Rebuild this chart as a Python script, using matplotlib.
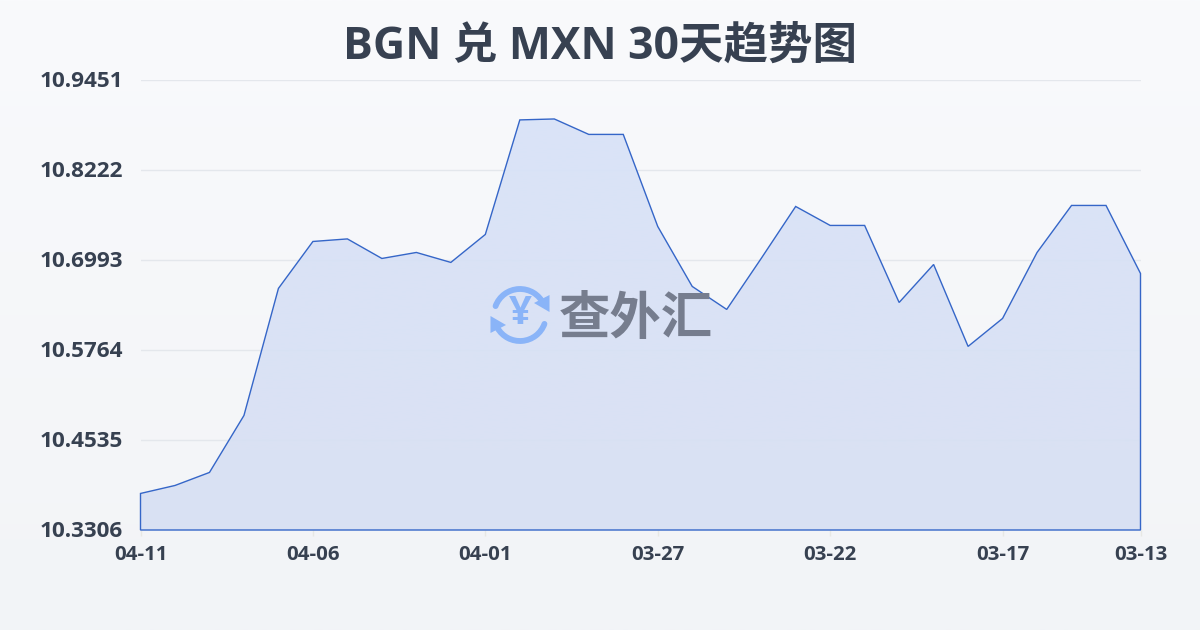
import numpy as np
import matplotlib
matplotlib.use("Agg")
import matplotlib.pyplot as plt
from matplotlib.patches import Arc, Polygon
from matplotlib.colors import LinearSegmentedColormap

LATIN = ['Open Sans', 'Noto Sans CJK SC', 'DejaVu Sans']
plt.rcParams['font.family'] = LATIN

TITLE = "BGN 兑 MXN 30天趋势图"
WATERMARK = "查外汇"
dates = ["04-11","04-10","04-09","04-08","04-07","04-06","04-05","04-04","04-03","04-02",
         "04-01","03-31","03-30","03-29","03-28","03-27","03-26","03-25","03-24","03-23",
         "03-22","03-21","03-20","03-19","03-18","03-17","03-16","03-15","03-14","03-13"]
rates = [10.3805,10.3914,10.4092,10.4870,10.6605,10.7246,10.7281,10.7014,10.7096,10.6960,
         10.7342,10.8906,10.8919,10.8708,10.8708,10.7451,10.6632,10.6318,10.7014,10.7724,
         10.7465,10.7465,10.6413,10.6932,10.5813,10.6195,10.7096,10.7738,10.7738,10.6809]
yticks = [10.3306,10.4535,10.5764,10.6993,10.8222,10.9451]
xtick_idx = [0,5,10,15,20,25,29]

W, H = 1200, 630
fig = plt.figure(figsize=(W/100, H/100), dpi=100)

bg = fig.add_axes([0,0,1,1], zorder=0)
bg.axis("off")
bg.imshow(np.linspace(0,1,256)[:,None], aspect="auto", extent=[0,1,0,1],
          cmap=LinearSegmentedColormap.from_list("bg",["#f9fafc","#f2f4f7"]))

ax = fig.add_axes([140.5/W, 1-530/H, 1000/W, 450/H], zorder=1)
ax.patch.set_alpha(0)
x = np.arange(len(rates))
ax.yaxis.grid(True, color="#e4e7ec", lw=1)
ax.set_axisbelow(True)
for s in ax.spines.values():
    s.set_visible(False)

grad = LinearSegmentedColormap.from_list("fill",["#d8e3f8","#d8e0f3"])
im = ax.imshow(np.linspace(0,1,256)[:,None], aspect="auto", cmap=grad, alpha=0.93,
               extent=[0,len(rates)-1,yticks[0],yticks[-1]], zorder=1.5)
outline = np.column_stack([np.r_[x[0],x,x[-1]], np.r_[yticks[0],rates,yticks[0]]])
poly = Polygon(outline, closed=True, fc="none", ec="#3566c8", lw=1, zorder=2, joinstyle="miter", clip_on=False)
ax.add_patch(poly)
im.set_clip_path(poly)
ax.set_xlim(0, len(rates)-1)
ax.set_ylim(yticks[0], yticks[-1])

ax.set_yticks(yticks, [f"{v:.4f}" for v in yticks])
ax.set_xticks(xtick_idx, [dates[i] for i in xtick_idx])
ax.tick_params(axis="y", length=0, pad=12.7, labelsize=16.2, labelcolor="#374151")
ax.tick_params(axis="x", length=4, width=1, color="#e8e8e4", pad=7, labelsize=14.7, labelcolor="#374151")
for t in ax.get_xticklabels()+ax.get_yticklabels():
    t.set_fontweight("bold")
for t in ax.get_yticklabels():
    t.set_transform(t.get_transform() + matplotlib.transforms.ScaledTranslation(0, 1.5/100, fig.dpi_scale_trans))

fig.text(0.5, 1-47/H, TITLE, ha="center", va="center", fontsize=32, fontweight="bold", color="#374151")

# watermark, drawn in pixel coordinates
ov = fig.add_axes([0,0,1,1], zorder=3)
ov.set_xlim(0,W); ov.set_ylim(H,0); ov.axis("off"); ov.patch.set_alpha(0)
blue = "#8ab4f8"
cx, cy, r = 520, 315, 26
ov.add_patch(Arc((cx,cy),2*r,2*r,theta1=200,theta2=335,color=blue,lw=4.2,capstyle="round"))
ov.add_patch(Arc((cx,cy),2*r,2*r,theta1=20,theta2=150,color=blue,lw=4.2,capstyle="round"))
ov.add_patch(Polygon([[549.5,295],[549.5,312],[534,303]],closed=True,fc=blue,ec="none"))
ov.add_patch(Polygon([[490.5,316],[490.5,333],[506,325]],closed=True,fc=blue,ec="none"))
ov.text(cx, cy-1, "¥", ha="center", va="center", fontsize=29, fontweight="bold", color=blue)
ov.text(636, 321, WATERMARK, ha="center", va="center", fontsize=37, fontweight="bold", color="#767d8e")

fig.savefig("out.png", dpi=100)
